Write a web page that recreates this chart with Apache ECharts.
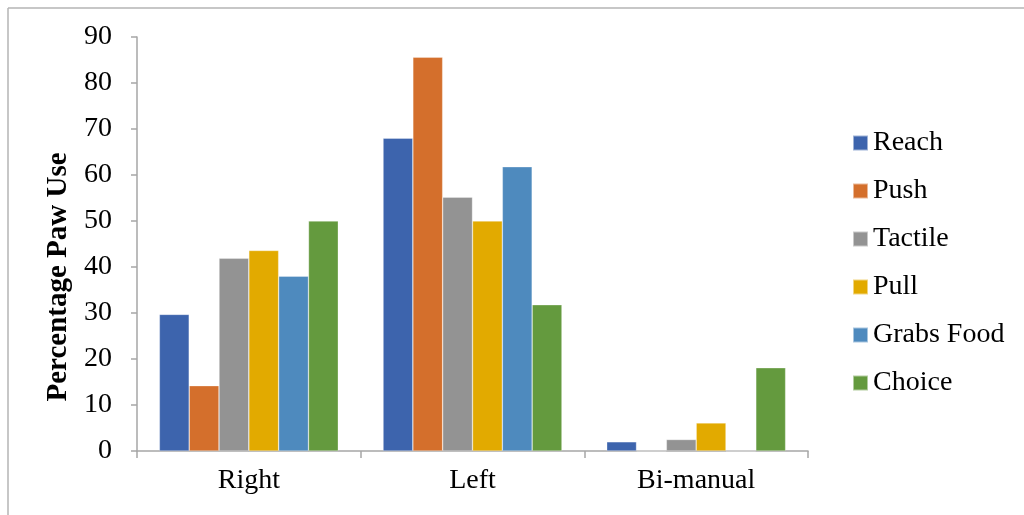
<!DOCTYPE html>
<html>
<head>
<meta charset="utf-8">
<script src="https://cdn.jsdelivr.net/npm/echarts@6/dist/echarts.min.js"></script>
<style>html,body{margin:0;padding:0;background:#fff;}#c{width:1024px;height:515px;}</style>
</head>
<body>
<div id="c"></div>
<script>
var categories = ['Right', 'Left', 'Bi-manual'];
var seriesNames = ['Reach', 'Push', 'Tactile', 'Pull', 'Grabs Food', 'Choice'];
var reach = [29.7, 68.0, 2.0];
var push = [14.2, 85.6, 0];
var tactile = [41.9, 55.2, 2.5];
var pull = [43.6, 50.0, 6.1];
var grabsFood = [38.0, 61.8, 0];
var choice = [50.0, 31.8, 18.1];
var yTicks = [0, 10, 20, 30, 40, 50, 60, 70, 80, 90];
var colors = ['#3D64AD', '#D46F2C', '#939393', '#E2AA00', '#4E8ABE', '#649A3E'];

var allData = [reach, push, tactile, pull, grabsFood, choice];
var font = '"Liberation Serif", "Times New Roman", serif';
var chart = echarts.init(document.getElementById('c'), null, {renderer: 'canvas'});
var series = seriesNames.map(function (n, i) {
  return {
    name: n, type: 'bar', data: allData[i],
    barGap: '0%', barCategoryGap: '20%',
    itemStyle: {color: colors[i], borderColor: 'rgba(255,255,255,0.5)', borderWidth: 0.6}
  };
});
chart.setOption({
  animation: false,
  backgroundColor: '#fff',
  textStyle: {fontFamily: font},
  grid: {left: 137, right: 216, top: 37, bottom: 64},
  legend: {
    orient: 'vertical', left: 847, top: 124, padding: 5,
    itemWidth: 15, itemHeight: 15, itemGap: 20, icon: 'rect',
    textStyle: {fontFamily: font, fontSize: 28, color: '#000', lineHeight: 28},
    data: seriesNames
  },
  xAxis: {
    type: 'category', data: categories,
    axisLine: {lineStyle: {color: '#A6A6A6', width: 1.5}},
    axisTick: {show: true, length: 7, lineStyle: {color: '#A6A6A6', width: 1.5}},
    axisLabel: {fontFamily: font, fontSize: 28, color: '#000', margin: 16}
  },
  yAxis: {
    type: 'value', min: yTicks[0], max: yTicks[yTicks.length - 1], interval: 10,
    name: 'Percentage Paw Use', nameLocation: 'middle', nameGap: 64, nameRotate: 90,
    nameTextStyle: {fontFamily: font, fontSize: 29, fontWeight: 'bold', color: '#000', padding: [0, 66, 0, 0]},
    axisLine: {show: true, lineStyle: {color: '#A6A6A6', width: 1.5}},
    axisTick: {show: true, length: 6, lineStyle: {color: '#A6A6A6', width: 1.5}},
    axisLabel: {fontFamily: font, fontSize: 28, color: '#000', margin: 25},
    splitLine: {show: false}
  },
  graphic: [
    {type: 'line', shape: {x1: 8, y1: 8, x2: 1024, y2: 8}, style: {stroke: '#B4B4B4', lineWidth: 1.5}},
    {type: 'line', shape: {x1: 8, y1: 8, x2: 8, y2: 515}, style: {stroke: '#B4B4B4', lineWidth: 1.5}}
  ],
  series: series
});
</script>
</body>
</html>
